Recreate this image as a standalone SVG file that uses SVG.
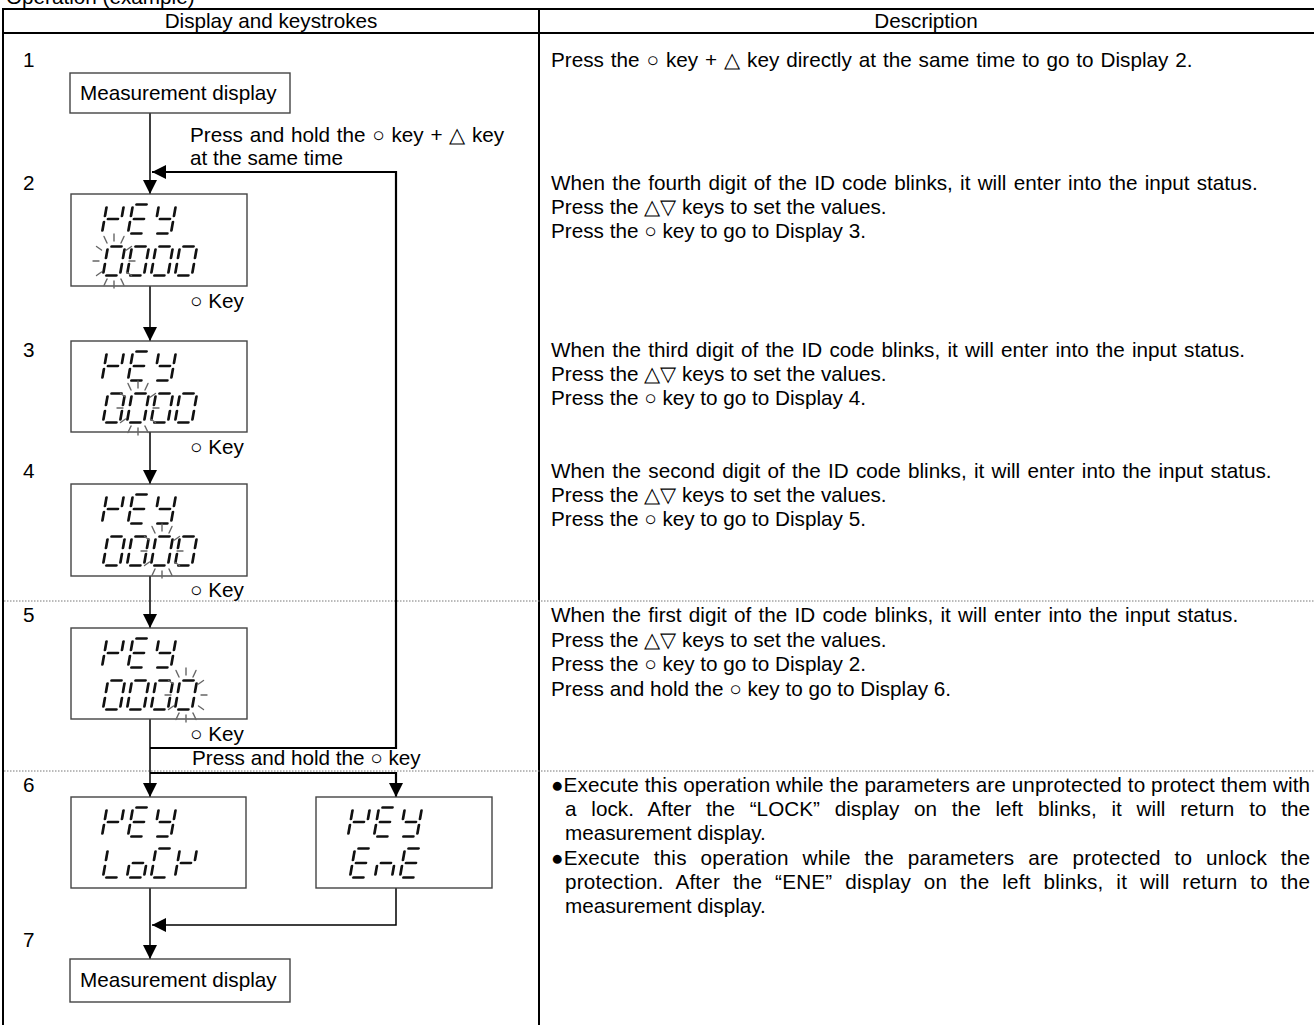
<svg xmlns="http://www.w3.org/2000/svg" width="1314" height="1025" viewBox="0 0 1314 1025">
<style>
.t{font-family:"Liberation Sans",Arial,sans-serif;font-size:20.7px;fill:#000}
.c{text-anchor:middle}
.rule{stroke:#000;stroke-width:2;fill:none}
.dot{stroke:#777;stroke-width:1;stroke-dasharray:1.5 1.5;fill:none}
.box{fill:#fff;stroke:#444;stroke-width:1.4}
.con{stroke:#000;stroke-width:1.5;fill:none}
.conb{stroke:#000;stroke-width:2.2;fill:none}
.seg line{stroke:#111;stroke-width:2.7;stroke-linecap:round}
.ray line{stroke:#666;stroke-width:1.4;stroke-linecap:round}
</style>
<defs>
<marker id="ah" viewBox="0 0 10 10" refX="10" refY="5" markerWidth="14" markerHeight="14" markerUnits="userSpaceOnUse" orient="auto">
<path d="M0,0 L10,5 L0,10 z" fill="#000"/>
</marker>
<g id="c-K" class="seg"><line x1="0" y1="3" x2="0" y2="11.5"/><line x1="0" y1="17.5" x2="0" y2="26"/><line x1="3.5" y1="14.5" x2="13.5" y2="14.5"/><line x1="17" y1="3" x2="17" y2="11.5"/></g>
<g id="c-E" class="seg"><line x1="3.5" y1="0" x2="13.5" y2="0"/><line x1="0" y1="3" x2="0" y2="11.5"/><line x1="3.5" y1="14.5" x2="13.5" y2="14.5"/><line x1="0" y1="17.5" x2="0" y2="26"/><line x1="3.5" y1="29" x2="13.5" y2="29"/></g>
<g id="c-Y" class="seg"><line x1="0" y1="3" x2="0" y2="11.5"/><line x1="17" y1="3" x2="17" y2="11.5"/><line x1="3.5" y1="14.5" x2="13.5" y2="14.5"/><line x1="17" y1="17.5" x2="17" y2="26"/><line x1="3.5" y1="29" x2="13.5" y2="29"/></g>
<g id="c-0" class="seg"><line x1="3.5" y1="0" x2="13.5" y2="0"/><line x1="17" y1="3" x2="17" y2="11.5"/><line x1="17" y1="17.5" x2="17" y2="26"/><line x1="3.5" y1="29" x2="13.5" y2="29"/><line x1="0" y1="17.5" x2="0" y2="26"/><line x1="0" y1="3" x2="0" y2="11.5"/></g>
<g id="c-L" class="seg"><line x1="0" y1="3" x2="0" y2="11.5"/><line x1="0" y1="17.5" x2="0" y2="26"/><line x1="3.5" y1="29" x2="13.5" y2="29"/></g>
<g id="c-o" class="seg"><line x1="3.5" y1="14.5" x2="13.5" y2="14.5"/><line x1="17" y1="17.5" x2="17" y2="26"/><line x1="3.5" y1="29" x2="13.5" y2="29"/><line x1="0" y1="17.5" x2="0" y2="26"/></g>
<g id="c-C" class="seg"><line x1="3.5" y1="0" x2="13.5" y2="0"/><line x1="0" y1="3" x2="0" y2="11.5"/><line x1="0" y1="17.5" x2="0" y2="26"/><line x1="3.5" y1="29" x2="13.5" y2="29"/></g>
<g id="c-n" class="seg"><line x1="3.5" y1="14.5" x2="13.5" y2="14.5"/><line x1="17" y1="17.5" x2="17" y2="26"/><line x1="0" y1="17.5" x2="0" y2="26"/></g>
<g id="blink" class="ray">
<line x1="15" y1="0" x2="21" y2="0"/><line x1="12.5" y1="11" x2="17.5" y2="14.5"/><line x1="7" y1="18" x2="10" y2="24.5"/><line x1="0" y1="20" x2="0" y2="27"/><line x1="-7" y1="18" x2="-10" y2="24.5"/><line x1="-12.5" y1="11" x2="-17.5" y2="14.5"/><line x1="-15" y1="0" x2="-21" y2="0"/><line x1="-12.5" y1="-11" x2="-17.5" y2="-14.5"/><line x1="-7" y1="-18" x2="-10" y2="-24.5"/><line x1="0" y1="-20" x2="0" y2="-27"/><line x1="7" y1="-18" x2="10" y2="-24.5"/><line x1="12.5" y1="-11" x2="17.5" y2="-14.5"/>
</g>
</defs>

<g id="table">
<text class="t" x="6" y="4">Operation (example)</text>
<line class="rule" x1="3" y1="9" x2="1314" y2="9"/>
<line class="rule" x1="3" y1="33" x2="1314" y2="33"/>
<line class="rule" x1="3" y1="8" x2="3" y2="1025"/>
<line class="rule" x1="539" y1="9" x2="539" y2="1025"/>
<line class="dot" x1="4" y1="601" x2="1314" y2="601"/>
<line class="dot" x1="4" y1="771" x2="1314" y2="771"/>
<text class="t c" x="271" y="28">Display and keystrokes</text>
<text class="t c" x="926" y="28">Description</text>
</g>

<g id="step-numbers">
<text class="t" x="23" y="67">1</text>
<text class="t" x="23" y="190">2</text>
<text class="t" x="23" y="357">3</text>
<text class="t" x="23" y="478">4</text>
<text class="t" x="23" y="622">5</text>
<text class="t" x="23" y="792">6</text>
<text class="t" x="23" y="947">7</text>
</g>

<g id="connectors">
<line class="con" x1="150" y1="113" x2="150" y2="194" marker-end="url(#ah)"/>
<polyline class="conb" points="150,748 396,748 396,172 152,172" marker-end="url(#ah)"/>
<line class="con" x1="150" y1="286" x2="150" y2="341" marker-end="url(#ah)"/>
<line class="con" x1="150" y1="432" x2="150" y2="484" marker-end="url(#ah)"/>
<line class="con" x1="150" y1="576" x2="150" y2="628" marker-end="url(#ah)"/>
<line class="con" x1="150" y1="719" x2="150" y2="797" marker-end="url(#ah)"/>
<polyline class="conb" points="150,773 396,773 396,797" marker-end="url(#ah)"/>
<line class="con" x1="150" y1="888" x2="150" y2="959" marker-end="url(#ah)"/>
<polyline class="con" points="396,888 396,925 152,925" marker-end="url(#ah)"/>
<text class="t" x="190" y="142" word-spacing="1">Press and hold the ○ key + △ key</text>
<text class="t" x="190" y="165">at the same time</text>
<text class="t" x="190" y="308">○ Key</text>
<text class="t" x="190" y="454">○ Key</text>
<text class="t" x="190" y="597">○ Key</text>
<text class="t" x="190" y="741">○ Key</text>
<text class="t" x="192" y="765">Press and hold the ○ key</text>
</g>

<g id="node-measure1">
<rect class="box" x="70" y="73" width="220" height="40"/>
<text class="t" x="80" y="100">Measurement display</text>
</g>

<g id="node-disp2">
<rect class="box" x="71" y="194" width="176" height="92"/>
<use href="#c-K" transform="translate(107,204.5) skewX(-10)"/>
<use href="#c-E" transform="translate(133,204.5) skewX(-10)"/>
<use href="#c-Y" transform="translate(159,204.5) skewX(-10)"/>
<use href="#c-0" transform="translate(108,246.5) skewX(-10)"/>
<use href="#c-0" transform="translate(132,246.5) skewX(-10)"/>
<use href="#c-0" transform="translate(156,246.5) skewX(-10)"/>
<use href="#c-0" transform="translate(180,246.5) skewX(-10)"/>
<use href="#blink" transform="translate(114,261)"/>
</g>

<g id="node-disp3">
<rect class="box" x="71" y="341" width="176" height="91"/>
<use href="#c-K" transform="translate(107,351.5) skewX(-10)"/>
<use href="#c-E" transform="translate(133,351.5) skewX(-10)"/>
<use href="#c-Y" transform="translate(159,351.5) skewX(-10)"/>
<use href="#c-0" transform="translate(108,393.5) skewX(-10)"/>
<use href="#c-0" transform="translate(132,393.5) skewX(-10)"/>
<use href="#c-0" transform="translate(156,393.5) skewX(-10)"/>
<use href="#c-0" transform="translate(180,393.5) skewX(-10)"/>
<use href="#blink" transform="translate(138,408)"/>
</g>

<g id="node-disp4">
<rect class="box" x="71" y="484" width="176" height="92"/>
<use href="#c-K" transform="translate(107,494.5) skewX(-10)"/>
<use href="#c-E" transform="translate(133,494.5) skewX(-10)"/>
<use href="#c-Y" transform="translate(159,494.5) skewX(-10)"/>
<use href="#c-0" transform="translate(108,536.5) skewX(-10)"/>
<use href="#c-0" transform="translate(132,536.5) skewX(-10)"/>
<use href="#c-0" transform="translate(156,536.5) skewX(-10)"/>
<use href="#c-0" transform="translate(180,536.5) skewX(-10)"/>
<use href="#blink" transform="translate(162,551)"/>
</g>

<g id="node-disp5">
<rect class="box" x="71" y="628" width="176" height="91"/>
<use href="#c-K" transform="translate(107,638.5) skewX(-10)"/>
<use href="#c-E" transform="translate(133,638.5) skewX(-10)"/>
<use href="#c-Y" transform="translate(159,638.5) skewX(-10)"/>
<use href="#c-0" transform="translate(108,680.5) skewX(-10)"/>
<use href="#c-0" transform="translate(132,680.5) skewX(-10)"/>
<use href="#c-0" transform="translate(156,680.5) skewX(-10)"/>
<use href="#c-0" transform="translate(180,680.5) skewX(-10)"/>
<use href="#blink" transform="translate(186,695)"/>
</g>

<g id="node-lock">
<rect class="box" x="71" y="797" width="175" height="91"/>
<use href="#c-K" transform="translate(107,807.5) skewX(-10)"/>
<use href="#c-E" transform="translate(133,807.5) skewX(-10)"/>
<use href="#c-Y" transform="translate(159,807.5) skewX(-10)"/>
<use href="#c-L" transform="translate(108,848.5) skewX(-10)"/>
<use href="#c-o" transform="translate(132,848.5) skewX(-10)"/>
<use href="#c-C" transform="translate(156,848.5) skewX(-10)"/>
<use href="#c-K" transform="translate(180,848.5) skewX(-10)"/>
</g>

<g id="node-ene">
<rect class="box" x="316" y="797" width="176" height="91"/>
<use href="#c-K" transform="translate(353,807.5) skewX(-10)"/>
<use href="#c-E" transform="translate(379,807.5) skewX(-10)"/>
<use href="#c-Y" transform="translate(405,807.5) skewX(-10)"/>
<use href="#c-E" transform="translate(355,848.5) skewX(-10)"/>
<use href="#c-n" transform="translate(380,848.5) skewX(-10)"/>
<use href="#c-E" transform="translate(405,848.5) skewX(-10)"/>
</g>

<g id="node-measure2">
<rect class="box" x="70" y="959" width="220" height="43"/>
<text class="t" x="80" y="987">Measurement display</text>
</g>

<g id="descriptions">
<text class="t" x="551" y="67" word-spacing="1.2">Press the ○ key + △ key directly at the same time to go to Display 2.</text>
<text class="t" x="551" y="190" word-spacing="1.5">When the fourth digit of the ID code blinks, it will enter into the input status.</text>
<text class="t" x="551" y="214">Press the △▽ keys to set the values.</text>
<text class="t" x="551" y="238">Press the ○ key to go to Display 3.</text>
<text class="t" x="551" y="357" word-spacing="1.5">When the third digit of the ID code blinks, it will enter into the input status.</text>
<text class="t" x="551" y="381">Press the △▽ keys to set the values.</text>
<text class="t" x="551" y="405">Press the ○ key to go to Display 4.</text>
<text class="t" x="551" y="478" word-spacing="1.5">When the second digit of the ID code blinks, it will enter into the input status.</text>
<text class="t" x="551" y="502">Press the △▽ keys to set the values.</text>
<text class="t" x="551" y="526">Press the ○ key to go to Display 5.</text>
<text class="t" x="551" y="622" word-spacing="1.5">When the first digit of the ID code blinks, it will enter into the input status.</text>
<text class="t" x="551" y="647">Press the △▽ keys to set the values.</text>
<text class="t" x="551" y="671">Press the ○ key to go to Display 2.</text>
<text class="t" x="551" y="696">Press and hold the ○ key to go to Display 6.</text>
<text class="t" x="551" y="792" textLength="759" lengthAdjust="spacing">●Execute this operation while the parameters are unprotected to protect them with</text>
<text class="t" x="565" y="816" word-spacing="9" textLength="745" lengthAdjust="spacing">a lock. After the “LOCK” display on the left blinks, it will return to the</text>
<text class="t" x="565" y="840">measurement display.</text>
<text class="t" x="551" y="865" word-spacing="7.9" textLength="759" lengthAdjust="spacing">●Execute this operation while the parameters are protected to unlock the</text>
<text class="t" x="565" y="889" word-spacing="6.9" textLength="745" lengthAdjust="spacing">protection. After the “ENE” display on the left blinks, it will return to the</text>
<text class="t" x="565" y="913">measurement display.</text>
</g>
</svg>
